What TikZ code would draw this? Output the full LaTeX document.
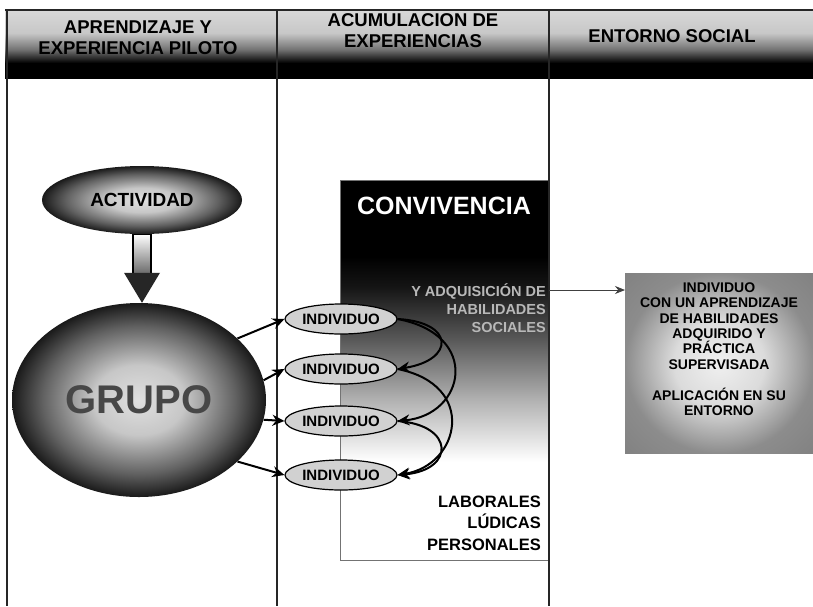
\documentclass[tikz,border=0pt]{standalone}
\usepackage{fontspec}
\setmainfont{Liberation Sans}
\usetikzlibrary{arrows.meta,calc,shapes.geometric}
\pgfdeclareverticalshading{hdrshade}{100bp}{color(0bp)=(black); color(36bp)=(black); color(46bp)=(black!55); color(58bp)=(black!22); color(75bp)=(black!15); color(100bp)=(black!15)}
\pgfdeclareverticalshading{convshade}{100bp}{color(0bp)=(white); color(38bp)=(white); color(46bp)=(black!30); color(54bp)=(black!65); color(61bp)=(black!92); color(65bp)=(black); color(100bp)=(black)}
\pgfdeclareradialshading{blob}{\pgfpoint{0bp}{0bp}}{color(0bp)=(black!12); color(9bp)=(black!22); color(19bp)=(black!62); color(25bp)=(black!90); color(50bp)=(black!90)}
\pgfdeclareradialshading{boxsh}{\pgfpoint{0bp}{0bp}}{color(0bp)=(black!6); color(12bp)=(black!14); color(25bp)=(black!45); color(50bp)=(black!55)}
\begin{document}
\begin{tikzpicture}[x=1pt,y=-1pt,
  txt/.style={font=\bfseries, inner sep=0pt},
  hdrtext/.style={inner sep=0pt, align=center, font=\bfseries\fontsize{18.5}{21}\selectfont},
  indiv/.style={ellipse, draw=black, line width=1.2pt, fill=black!18, minimum width=112pt, minimum height=30pt, inner sep=0pt, font=\bfseries\fontsize{15}{15}\selectfont},
  link/.style={line width=2pt, -{Stealth[length=12pt,width=11pt]}},
  colline/.style={line width=1.6pt, black!85}]
\useasboundingbox (0,0) rectangle (813,606);
\fill[white] (0,0) rectangle (813,606);

% header band
\node[shading=hdrshade, minimum width=808pt, minimum height=68pt, anchor=north west, inner sep=0pt, outer sep=0pt] (band) at (5,10) {};

% convivencia box
\node[draw=black!55, line width=0.6pt, shading=convshade, minimum width=208pt, minimum height=380pt, anchor=north west, inner sep=0pt] (conv) at (340,180) {};

% output box
\node[shading=boxsh, minimum width=188pt, minimum height=180pt, anchor=north west, inner sep=0pt] (outbox) at (625,273) {};

% column lines
\draw[colline] (5,10) -- (813,10);
\draw[colline] (7,10) -- (7,606);
\draw[colline] (277,10) -- (277,606);
\draw[colline] (549,10) -- (549,606);

% header texts
\node[hdrtext] (h1) at (138,38) {APRENDIZAJE Y\\EXPERIENCIA PILOTO};
\node[hdrtext] (h2) at (413,31) {ACUMULACION DE\\EXPERIENCIAS};
\node[hdrtext] (h3) at (672,36) {ENTORNO SOCIAL};

% convivencia texts
\node[txt, text=white, font=\bfseries\fontsize{25}{25}\selectfont] (convt) at (444,206) {CONVIVENCIA};
\node[txt, text=white!72!black, align=right, anchor=east, font=\bfseries\fontsize{14.5}{18}\selectfont] (convs) at (546,308) {Y ADQUISICIÓN DE\\HABILIDADES\\SOCIALES};
\node[txt, align=right, anchor=east, font=\bfseries\fontsize{16.5}{21.5}\selectfont] (ambitos) at (541,523) {LABORALES\\LÚDICAS\\PERSONALES};

% output text
\node[txt, align=center, font=\bfseries\fontsize{14}{15.4}\selectfont] (outtxt) at (719,349) {INDIVIDUO\\CON UN APRENDIZAJE\\DE HABILIDADES\\ADQUIRIDO Y\\PRÁCTICA\\SUPERVISADA\\[15.4pt]APLICACIÓN EN SU\\ENTORNO};

% actividad and grupo
\node[ellipse, shading=blob, minimum width=200pt, minimum height=68pt, inner sep=0pt, font=\bfseries\fontsize{19}{19}\selectfont] (act) at (142,200) {ACTIVIDAD};
\node[ellipse, shading=blob, minimum width=254pt, minimum height=194pt, inner sep=0pt, text=black!72, font=\bfseries\fontsize{40}{40}\selectfont] (grp) at (139,400) {GRUPO};

% big arrow actividad -> grupo
\draw[line width=1.2pt, top color=white, bottom color=black!60] ($(act.south)+(-9,0)$) rectangle ($(act.south |- grp.north)+(9,-28)$);
\fill[black!85] ($(act.south |- grp.north)+(-18,-30)$) -- ($(act.south |- grp.north)+(18,-30)$) -- (act.south |- grp.north) -- cycle;

% individuos
\node[indiv] (i1) at (341,319) {INDIVIDUO};
\node[indiv] (i2) at (341,369) {INDIVIDUO};
\node[indiv] (i3) at (341,421) {INDIVIDUO};
\node[indiv] (i4) at (341,475) {INDIVIDUO};

% links grupo -> individuos
\draw[link] (grp.32) -- (i1.west);
\draw[link] (grp.9) -- (i2.west);
\draw[link] (grp.-9) -- (i3.west);
\draw[link] (grp.-32) -- (i4.west);

% links between individuos
\draw[link] (i1.east) .. controls (455,322) and (455,360) .. (i2.east);
\draw[link] (i1.east) .. controls (482,335) and (465,415) .. (i3.east);
\draw[link] (i2.east) .. controls (478,385) and (460,465) .. (i4.east);
\draw[link] (i3.east) .. controls (455,425) and (455,470) .. (i4.east);

% arrow to output
\coordinate (cs) at (549,290);
\draw[line width=0.9pt, black!75, -{Stealth[length=10pt,width=8pt]}] (cs) -- (cs -| outbox.west);
\end{tikzpicture}
\end{document}
